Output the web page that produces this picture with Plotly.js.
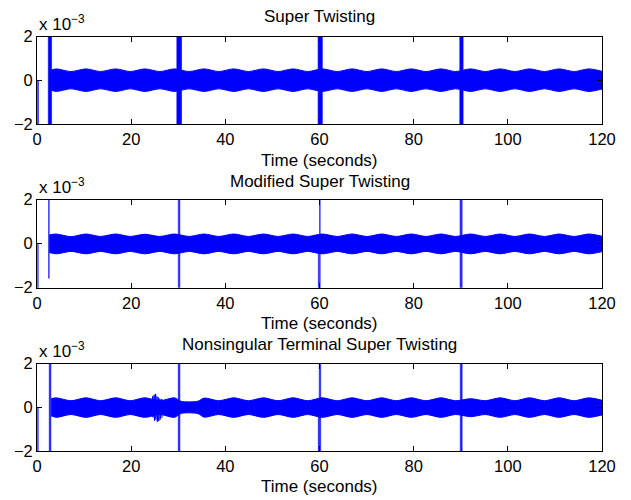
<!DOCTYPE html>
<html>
<head>
<meta charset="utf-8">
<script src="https://cdn.plot.ly/plotly-3.0.1.min.js"></script>
<style>html,body{margin:0;padding:0;background:#fff;}#chart{width:631px;height:500px;}</style>
</head>
<body>
<div id="chart"></div>
<script>
// ---------------- data (values in units of 1e-3) ----------------
const titles = ["Super Twisting", "Modified Super Twisting", "Nonsingular Terminal Super Twisting"];
const xLabel = "Time (seconds)";
const xTickVals = [0, 20, 40, 60, 80, 100, 120];
const yTickVals = [-2, 0, 2];
const yTickText = ["\u22122", "0", "2"];

// band envelope, subplot 1 (Super Twisting): bulges at 4.1, 10.4, ... pinches between
const t1  = [3.0, 4.1, 7.2, 10.4, 13.5, 16.7, 19.8, 22.9, 26.1, 29.2, 32.3, 35.5, 38.6, 41.8, 44.9, 48.1, 51.2, 54.4, 57.5, 60.6, 63.8, 66.9, 70.1, 73.2, 76.3, 79.5, 82.6, 85.8, 88.9, 92.1, 95.2, 98.4, 101.5, 104.6, 107.8, 110.9, 114.1, 117.2, 120];
const up1 = [0.47, 0.53, 0.41, 0.53, 0.41, 0.53, 0.41, 0.53, 0.41, 0.53, 0.41, 0.53, 0.41, 0.53, 0.41, 0.53, 0.41, 0.53, 0.41, 0.53, 0.41, 0.53, 0.41, 0.53, 0.41, 0.53, 0.41, 0.53, 0.41, 0.53, 0.41, 0.53, 0.41, 0.53, 0.41, 0.53, 0.41, 0.53, 0.42];
const lo1 = [-0.44, -0.50, -0.38, -0.50, -0.38, -0.50, -0.38, -0.50, -0.38, -0.50, -0.38, -0.50, -0.38, -0.50, -0.38, -0.50, -0.38, -0.50, -0.38, -0.50, -0.38, -0.50, -0.38, -0.50, -0.38, -0.50, -0.38, -0.50, -0.38, -0.50, -0.38, -0.50, -0.38, -0.50, -0.38, -0.50, -0.38, -0.50, -0.39];

// band envelope, subplot 2 (Modified Super Twisting)
const t2  = [2.6, 4.1, 7.2, 10.4, 13.5, 16.7, 19.8, 22.9, 26.1, 29.2, 32.3, 35.5, 38.6, 41.8, 44.9, 48.1, 51.2, 54.4, 57.5, 60.6, 63.8, 66.9, 70.1, 73.2, 76.3, 79.5, 82.6, 85.8, 88.9, 92.1, 95.2, 98.4, 101.5, 104.6, 107.8, 110.9, 114.1, 117.2, 120];
const up2 = [0.40, 0.44, 0.32, 0.44, 0.33, 0.44, 0.33, 0.43, 0.33, 0.44, 0.33, 0.44, 0.33, 0.44, 0.33, 0.44, 0.33, 0.44, 0.33, 0.44, 0.33, 0.44, 0.33, 0.44, 0.33, 0.44, 0.33, 0.44, 0.33, 0.44, 0.33, 0.44, 0.33, 0.44, 0.33, 0.44, 0.33, 0.44, 0.34];
const lo2 = [-0.40, -0.46, -0.35, -0.46, -0.35, -0.46, -0.35, -0.46, -0.35, -0.46, -0.35, -0.46, -0.35, -0.46, -0.35, -0.46, -0.35, -0.46, -0.35, -0.46, -0.35, -0.46, -0.35, -0.46, -0.35, -0.46, -0.35, -0.46, -0.35, -0.46, -0.35, -0.46, -0.35, -0.46, -0.35, -0.46, -0.35, -0.46, -0.36];

// band envelope, subplot 3 (Nonsingular Terminal Super Twisting)
const t3  = [3.0, 4.1, 7.2, 10.4, 13.5, 16.7, 19.8, 22.9, 26.1, 29.2, 30.6, 34.2, 35.5, 38.6, 41.8, 44.9, 48.1, 51.2, 54.4, 57.5, 60.6, 63.8, 66.9, 70.1, 73.2, 76.3, 79.5, 82.6, 85.8, 88.9, 92.1, 95.2, 98.4, 101.5, 104.6, 107.8, 110.9, 114.1, 117.2, 120];
const up3 = [0.40, 0.44, 0.31, 0.44, 0.31, 0.44, 0.31, 0.44, 0.31, 0.44, 0.28, 0.29, 0.43, 0.31, 0.44, 0.31, 0.44, 0.31, 0.44, 0.31, 0.44, 0.31, 0.44, 0.31, 0.44, 0.31, 0.44, 0.31, 0.44, 0.31, 0.40, 0.31, 0.44, 0.31, 0.44, 0.31, 0.44, 0.31, 0.44, 0.33];
const lo3 = [-0.38, -0.45, -0.32, -0.45, -0.32, -0.45, -0.32, -0.45, -0.32, -0.45, -0.27, -0.28, -0.44, -0.32, -0.45, -0.32, -0.45, -0.32, -0.45, -0.32, -0.45, -0.32, -0.45, -0.32, -0.45, -0.32, -0.45, -0.32, -0.45, -0.32, -0.42, -0.32, -0.45, -0.32, -0.45, -0.32, -0.45, -0.32, -0.45, -0.34];

// local disturbance in subplot 3 near t = 25 s
const distT = [24.4, 24.6, 24.65, 24.9, 24.95, 25.2, 25.25, 25.5, 25.55, 25.8, 25.85, 26.1, 26.15, 26.5, 26.55];
const distY = [0.0, 0.52, -0.45, 0.58, -0.60, 0.62, -0.55, 0.50, -0.65, 0.45, -0.62, 0.40, -0.55, 0.38, -0.48];

// transient spikes: start time, end time, lowest and highest value
const spk1Start = [0.15, 2.4, 29.7, 59.7, 89.8];
const spk1End   = [0.28, 3.1, 30.7, 60.6, 90.5];
const spk1Min   = [-3, -3, -3, -3, -3];
const spk1Max   = [0, 3, 3, 3, 3];

const spk2Start = [0.15, 2.45, 30.0, 59.75, 60.0, 89.85];
const spk2End   = [0.25, 2.6, 30.35, 59.85, 60.15, 90.3];
const spk2Min   = [-3, -1.57, -3, -3, -3, -3];
const spk2Max   = [0, 3, 3, 0, 3, 3];

const spk3Start = [0.15, 2.6, 30.0, 59.75, 59.95, 89.9];
const spk3End   = [0.25, 2.95, 30.35, 59.85, 60.25, 90.3];
const spk3Min   = [-3, -3, -3, -3, -3, -3];
const spk3Max   = [0, 3, 3, 0, 3, 3];

// ---------------- build ----------------
const BLUE = "#0000ff";
const traces = [];
function band(t, up, lo, ax) {
  traces.push({x: t, y: lo, xaxis: "x" + ax, yaxis: "y" + ax, mode: "lines",
    line: {color: BLUE, width: 1, shape: "spline", smoothing: 0.8}, hoverinfo: "skip", showlegend: false});
  traces.push({x: t, y: up, xaxis: "x" + ax, yaxis: "y" + ax, mode: "lines", fill: "tonexty",
    fillcolor: BLUE, line: {color: BLUE, width: 1, shape: "spline", smoothing: 0.8}, hoverinfo: "skip", showlegend: false});
}
function spikes(s, e, mn, mx, ax, op) {
  for (let i = 0; i < s.length; i++) {
    traces.push({x: [s[i], e[i], e[i], s[i], s[i]], y: [mn[i], mn[i], mx[i], mx[i], mn[i]],
      xaxis: "x" + ax, yaxis: "y" + ax, mode: "lines", fill: "toself", fillcolor: BLUE,
      opacity: op, line: {color: BLUE, width: 0.6}, hoverinfo: "skip", showlegend: false});
  }
}
band(t1, up1, lo1, "");
band(t2, up2, lo2, "2");
band(t3, up3, lo3, "3");
traces.push({x: distT, y: distY, xaxis: "x3", yaxis: "y3", mode: "lines",
  line: {color: BLUE, width: 1}, hoverinfo: "skip", showlegend: false});
spikes(spk1Start, spk1End, spk1Min, spk1Max, "", 1);
spikes(spk2Start, spk2End, spk2Min, spk2Max, "2", 0.85);
spikes(spk3Start, spk3End, spk3Min, spk3Max, "3", 0.9);

const FONT = {family: "Liberation Sans, Arial, Helvetica, sans-serif", size: 16.5, color: "#000"};
const H = 500;
function py(p) { return 1 - p / H; }

function xa() {
  return {domain: [0, 1], range: [0, 120], tickvals: xTickVals, ticktext: xTickVals.map(String),
    ticks: "inside", ticklen: 5, tickcolor: "#000", showline: true, linecolor: "#000", linewidth: 1,
    mirror: "ticks", showgrid: false, zeroline: false, tickfont: FONT, fixedrange: true, automargin: false};
}
function ya(dom) {
  return {domain: dom, range: [-2, 2], tickvals: yTickVals, ticktext: yTickText,
    ticks: "inside", ticklen: 5, tickcolor: "#000", showline: true, linecolor: "#000", linewidth: 1,
    mirror: "ticks", showgrid: false, zeroline: false, tickfont: FONT, fixedrange: true, automargin: false};
}
const d1 = [py(124.3), py(36.7)], d2 = [py(287.7), py(199.7)], d3 = [py(451.3), py(363.7)];

const ann = [];
const titleY = [16.5, 181, 344];
const xlabY = [160, 323.3, 486.7];
const expY = [23.3, 185.7, 350];
for (let i = 0; i < 3; i++) {
  ann.push({text: titles[i], x: 0.5, y: py(titleY[i]), xref: "paper", yref: "paper",
    xanchor: "center", yanchor: "middle", showarrow: false, font: Object.assign({}, FONT, {size: 17})});
  ann.push({text: xLabel, x: 0.5, y: py(xlabY[i]), xref: "paper", yref: "paper",
    xanchor: "center", yanchor: "middle", showarrow: false, font: Object.assign({}, FONT, {size: 17})});
  ann.push({text: "x 10<sup>\u22123</sup>", x: 0, y: py(expY[i]), xref: "paper", yref: "paper",
    xanchor: "left", yanchor: "middle", showarrow: false, font: Object.assign({}, FONT, {size: 17})});
}

const layout = {
  width: 631, height: 500,
  margin: {l: 37, r: 29, t: 0, b: 0, pad: 0},
  paper_bgcolor: "#fff", plot_bgcolor: "#fff",
  showlegend: false,
  xaxis: Object.assign(xa(), {anchor: "y"}),
  yaxis: Object.assign(ya(d1), {anchor: "x"}),
  xaxis2: Object.assign(xa(), {anchor: "y2"}),
  yaxis2: Object.assign(ya(d2), {anchor: "x2"}),
  xaxis3: Object.assign(xa(), {anchor: "y3"}),
  yaxis3: Object.assign(ya(d3), {anchor: "x3"}),
  annotations: ann
};
Plotly.newPlot("chart", traces, layout, {staticPlot: true, displayModeBar: false});
</script>
</body>
</html>
